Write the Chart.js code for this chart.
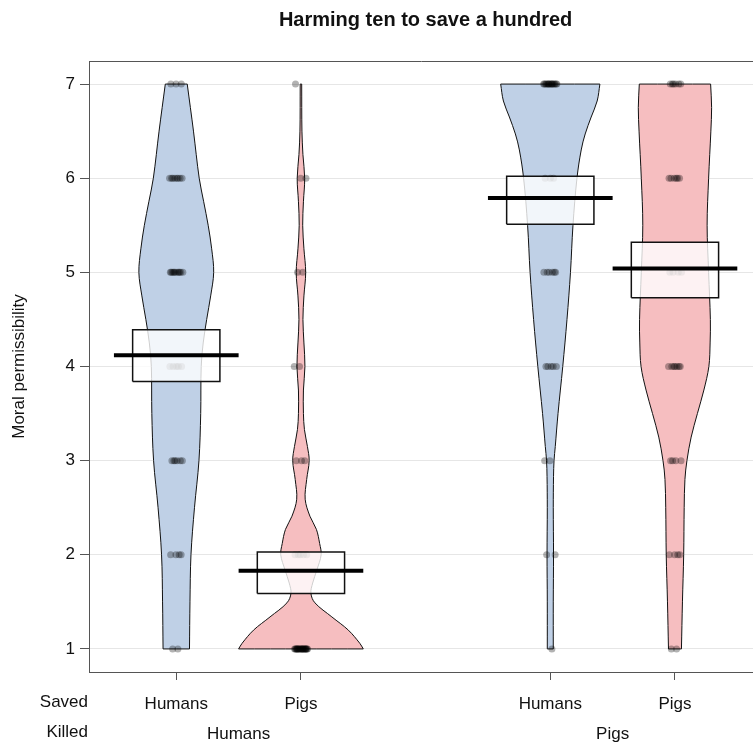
<!DOCTYPE html>
<html>
<head>
<meta charset="utf-8">
<title>Harming ten to save a hundred</title>
<script src="https://cdn.jsdelivr.net/npm/chart.js@4.4.1/dist/chart.umd.min.js"></script>
<style>
  html, body { margin: 0; padding: 0; background: #fff; overflow: hidden; }
  #wrap { width: 753px; height: 744px; overflow: hidden; }
</style>
</head>
<body>
<div id="wrap"><canvas id="myChart" width="758" height="744"></canvas></div>
<script>
const savedLabels = ['Humans', 'Pigs', 'Humans', 'Pigs'];
const killedLabels = ['Humans', 'Pigs'];
const rowNames = ['Saved', 'Killed'];
const groupX = [1, 2, 4, 5];
const killedX = [1.5, 4.5];
const yTicks = [1, 2, 3, 4, 5, 6, 7];
const ratings = [1, 2, 3, 4, 5, 6, 7];

const means = [4.12, 1.83, 5.79, 5.04];
const ciLow = [3.84, 1.59, 5.51, 4.73];
const ciHigh = [4.39, 2.03, 6.02, 5.32];

// number of answers at each rating 1..7
const countsHH = [2, 4, 6, 5, 11, 8, 3];
const countsPH = [24, 5, 3, 2, 2, 2, 1];
const countsHP = [1, 2, 2, 5, 6, 3, 16];
const countsPP = [2, 4, 4, 7, 4, 6, 6];

// bean outlines: rating level -> half width of density (x units)
const levelsHH = [1, 1.5, 2, 2.5, 3, 3.5, 4, 4.25, 4.5, 4.75, 5, 5.25, 5.5, 5.75, 6, 6.5, 7];
const densHH = [0.106, 0.110, 0.118, 0.146, 0.182, 0.196, 0.200, 0.216, 0.244, 0.276, 0.300, 0.284, 0.256, 0.220, 0.184, 0.138, 0.088];
const levelsPH = [1, 1.06, 1.2, 1.34, 1.49, 1.59, 1.7, 1.84, 2, 2.12, 2.27, 2.41, 2.59, 2.8, 3, 3.15, 3.33, 3.5, 3.75, 4, 4.25, 4.5, 4.75, 5, 5.25, 5.5, 5.75, 6, 6.25, 6.5, 7];
const densPH = [0.5, 0.472, 0.38, 0.248, 0.112, 0.08, 0.094, 0.128, 0.162, 0.150, 0.124, 0.072, 0.034, 0.046, 0.066, 0.052, 0.028, 0.02, 0.02, 0.032, 0.024, 0.016, 0.024, 0.038, 0.024, 0.014, 0.02, 0.03, 0.016, 0.008, 0.006];
const levelsHP = [1, 1.5, 2, 2.5, 2.83, 3, 3.15, 3.5, 4, 4.5, 5, 5.5, 6, 6.3, 6.47, 6.65, 6.82, 7];
const densHP = [0.024, 0.024, 0.026, 0.024, 0.026, 0.030, 0.040, 0.062, 0.100, 0.134, 0.162, 0.182, 0.214, 0.248, 0.280, 0.328, 0.376, 0.398];
const levelsPP = [1, 1.5, 2, 2.5, 2.8, 3, 3.25, 3.5, 3.75, 4, 4.25, 4.5, 5, 5.5, 6, 6.5, 6.75, 7];
const densPP = [0.052, 0.060, 0.070, 0.074, 0.080, 0.096, 0.130, 0.180, 0.232, 0.272, 0.282, 0.284, 0.270, 0.258, 0.270, 0.288, 0.294, 0.286];

const counts = [countsHH, countsPH, countsHP, countsPP];
const levels = [levelsHH, levelsPH, levelsHP, levelsPP];
const dens = [densHH, densPH, densHP, densPP];

const beanCol = ['#BFD0E6', '#F6BEC0', '#BFD0E6', '#F6BEC0'];

// closed outline, corners doubled so the curve stays sharp there
function beanPath(cx, lv, w) {
  let n = lv.length, p = [];
  for (let i = 0; i < n; i++) p.push({x: cx + w[i], y: lv[i]});
  p.push({x: cx + w[n-1], y: lv[n-1]});
  p.push({x: cx - w[n-1], y: lv[n-1]}, {x: cx - w[n-1], y: lv[n-1]});
  for (let i = n - 2; i >= 0; i--) p.push({x: cx - w[i], y: lv[i]});
  p.push({x: cx - w[0], y: lv[0]});
  p.push({x: cx + w[0], y: lv[0]});
  return p;
}

function jit(i) { return ((((i + 1) * 0.6180339887) % 1) - 0.5) * 0.11; }

let datasets = [];
groupX.forEach((cx, g) => {
  datasets.push({
    data: beanPath(cx, levels[g], dens[g]),
    showLine: true, fill: 'shape', tension: 0.35,
    backgroundColor: beanCol[g], borderColor: '#111', borderWidth: 1,
    pointRadius: 0, order: 4
  });
  let pts = [], k = 0;
  ratings.forEach((r, j) => {
    for (let i = 0; i < counts[g][j]; i++) { pts.push({x: cx + jit(k), y: r}); k++; }
  });
  datasets.push({
    data: pts, showLine: false,
    pointRadius: 3.5, pointBorderWidth: 0,
    pointBackgroundColor: 'rgba(0,0,0,0.3)', order: 3
  });
  datasets.push({
    data: [{x: cx - 0.35, y: ciLow[g]}, {x: cx + 0.35, y: ciLow[g]}, {x: cx + 0.35, y: ciHigh[g]},
           {x: cx - 0.35, y: ciHigh[g]}, {x: cx - 0.35, y: ciLow[g]}],
    showLine: true, fill: 'shape', tension: 0,
    backgroundColor: 'rgba(255,255,255,0.8)', borderColor: '#111', borderWidth: 1.5,
    pointRadius: 0, order: 2
  });
  datasets.push({
    data: [{x: cx - 0.5, y: means[g]}, {x: cx + 0.5, y: means[g]}],
    showLine: true, fill: false, tension: 0,
    borderColor: '#000', borderWidth: 4, pointRadius: 0, order: 1
  });
});

const FONT = 'Liberation Sans, Arial, sans-serif';

const extras = {
  id: 'extras',
  afterDraw(chart) {
    const {ctx, chartArea: a, scales} = chart;
    ctx.save();
    ctx.strokeStyle = '#555';
    ctx.lineWidth = 1;
    ctx.beginPath();
    ctx.moveTo(a.left, a.top + 0.5);
    ctx.lineTo(a.right, a.top + 0.5);
    ctx.stroke();
    ctx.fillStyle = '#111';
    ctx.font = 'bold 20px ' + FONT;
    ctx.textAlign = 'center';
    ctx.textBaseline = 'middle';
    let mid = scales.x.getPixelForValue((groupX[0] + groupX[groupX.length - 1]) / 2);
    ctx.fillText('Harming ten to save a hundred', mid, 20);
    ctx.font = '17px ' + FONT;
    ctx.textAlign = 'right';
    ctx.textBaseline = 'top';
    ctx.fillText(rowNames[0], a.left - 1, scales.x.top + 8 + 14);
    ctx.fillText(rowNames[1], a.left - 1, scales.x2.top + 7);
    ctx.restore();
  }
};

function noPad(s) { s.paddingLeft = 0; s.paddingRight = 0; }

new Chart(document.getElementById('myChart'), {
  type: 'scatter',
  data: {datasets: datasets},
  plugins: [extras],
  options: {
    responsive: false,
    animation: false,
    events: [],
    layout: {padding: {top: 61, right: 0, bottom: 0, left: 0}},
    plugins: {legend: {display: false}, tooltip: {enabled: false}, title: {display: false}},
    scales: {
      x: {
        type: 'linear', position: 'bottom', min: 0.3, max: 5.634, weight: 0,
        afterBuildTicks: s => { s.ticks = groupX.map(v => ({value: v})); },
        afterFit: s => { s.height = 45; noPad(s); },
        ticks: {
          callback: (v, i) => savedLabels[i],
          autoSkip: false, maxRotation: 0, padding: 14,
          color: '#111', font: {family: FONT, size: 17}
        },
        grid: {display: true, drawOnChartArea: false, drawTicks: true, tickLength: 8, tickColor: '#555'},
        border: {display: true, color: '#555', width: 1}
      },
      x2: {
        type: 'linear', position: 'bottom', min: 0.3, max: 5.634, weight: 1,
        afterBuildTicks: s => { s.ticks = killedX.map(v => ({value: v})); },
        afterFit: s => { s.height = 27; noPad(s); },
        ticks: {
          callback: (v, i) => killedLabels[i],
          autoSkip: false, maxRotation: 0, padding: 7,
          color: '#111', font: {family: FONT, size: 17}
        },
        grid: {display: false, drawTicks: false},
        border: {display: false}
      },
      y: {
        type: 'linear', min: 0.755, max: 7.245,
        afterBuildTicks: s => { s.ticks = yTicks.map(v => ({value: v})); },
        afterFit: s => { s.width = 89; },
        ticks: {color: '#111', padding: 5, font: {family: FONT, size: 17}},
        grid: {color: '#e6e6e6', lineWidth: 1, tickLength: 9, tickColor: '#555'},
        border: {display: true, color: '#555', width: 1},
        title: {display: true, text: 'Moral permissibility', color: '#111',
                font: {family: FONT, size: 17}, padding: {top: 9, bottom: 0}}
      }
    }
  }
});
</script>
</body>
</html>
